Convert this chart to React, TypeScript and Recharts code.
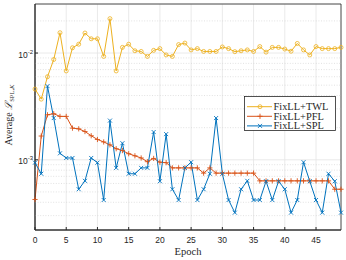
import React from 'react';
import {
  LineChart,
  Line,
  XAxis,
  YAxis,
  CartesianGrid,
  ReferenceLine,
  ReferenceArea,
  Legend,
} from 'recharts';

const EPOCHS = [
  0, 1, 2, 3, 4, 5, 6, 7, 8, 9, 10, 11, 12, 13, 14, 15, 16, 17, 18, 19, 20, 21, 22, 23, 24,
  25, 26, 27, 28, 29, 30, 31, 32, 33, 34, 35, 36, 37, 38, 39, 40, 41, 42, 43, 44, 45, 46, 47, 48, 49,
];

const TWL = [
  4.6e-3, 3.7e-3, 6.0e-3, 8.7e-3, 1.55e-2, 6.8e-3, 1.12e-2, 1.21e-2, 1.54e-2, 1.36e-2,
  1.36e-2, 9.3e-3, 2.1e-2, 6.8e-3, 1.13e-2, 1.21e-2, 1.05e-2, 1.035e-2, 9.3e-3, 1.06e-2,
  1.1e-2, 9.6e-3, 9.3e-3, 1.2e-2, 1.24e-2, 1.07e-2, 1.1e-2, 1.035e-2, 1.035e-2, 1.035e-2,
  1.14e-2, 1.1e-2, 1.03e-2, 1.05e-2, 1.07e-2, 1.035e-2, 1.15e-2, 1.02e-2, 1.13e-2, 1.13e-2,
  1.09e-2, 1.04e-2, 1.23e-2, 1.07e-2, 9.6e-3, 1.15e-2, 1.1e-2, 1.1e-2, 1.1e-2, 1.13e-2,
];

const PFL = [
  4.25e-4, 1.67e-3, 2.64e-3, 2.7e-3, 2.55e-3, 2.55e-3, 1.98e-3, 1.95e-3, 1.84e-3, 1.68e-3,
  1.55e-3, 1.47e-3, 1.38e-3, 1.27e-3, 1.22e-3, 1.14e-3, 1.09e-3, 1.04e-3, 9.6e-4, 1.03e-3,
  9.5e-4, 9.4e-4, 8.4e-4, 8.4e-4, 8.4e-4, 8.4e-4, 8.4e-4, 7.5e-4, 8.4e-4, 7.5e-4,
  7.5e-4, 7.5e-4, 7.5e-4, 7.5e-4, 7.5e-4, 7.5e-4, 6.35e-4, 6.35e-4, 6.35e-4, 6.35e-4,
  6.35e-4, 6.35e-4, 6.35e-4, 6.35e-4, 6.35e-4, 6.35e-4, 6.35e-4, 6.35e-4, 5.3e-4, 5.3e-4,
];

const SPL = [
  9.4e-4, 7.4e-4, 4.9e-3, 2.46e-3, 1.15e-3, 1.04e-3, 1.04e-3, 5.3e-4, 6.35e-4, 1.04e-3,
  9.4e-4, 4.2e-4, 2.33e-3, 8.4e-4, 1.43e-3, 7.4e-4, 7.4e-4, 8.4e-4, 8.4e-4, 1.82e-3,
  6.3e-4, 1.74e-3, 5.3e-4, 4.2e-4, 8.4e-4, 9.5e-4, 4.2e-4, 5.3e-4, 7.4e-4, 2.46e-3,
  7.4e-4, 4.2e-4, 3.2e-4, 5.3e-4, 6.35e-4, 4.2e-4, 4.2e-4, 6.3e-4, 4.2e-4, 6.3e-4,
  5.3e-4, 3.2e-4, 4.2e-4, 9.5e-4, 6.3e-4, 4.2e-4, 3.2e-4, 7.4e-4, 6.3e-4, 3.2e-4,
];

const X_TICKS = [0, 5, 10, 15, 20, 25, 30, 35, 40, 45];
const Y_TICKS = [1e-3, 1e-2];
const Y_MINOR = [3e-4, 4e-4, 5e-4, 6e-4, 7e-4, 8e-4, 9e-4, 2e-3, 3e-3, 4e-3, 5e-3, 6e-3, 7e-3, 8e-3, 9e-3, 2e-2];
const Y_DOMAIN = [2.2e-4, 2.88e-2];

const SERIES = [
  { key: 'twl', name: 'FixLL+TWL', color: '#EDB120', marker: 'o' },
  { key: 'pfl', name: 'FixLL+PFL', color: '#D95319', marker: '+' },
  { key: 'spl', name: 'FixLL+SPL', color: '#0072BD', marker: 'x' },
];

const data = EPOCHS.map((epoch, i) => ({ epoch, twl: TWL[i], pfl: PFL[i], spl: SPL[i] }));

const AXIS_COLOR = '#262626';
const SANS = '"Liberation Sans", Arial, sans-serif';
const SERIF = '"Liberation Serif", "DejaVu Serif", serif';

const drawMarker = (marker: string, cx: number, cy: number, color: string, key?: any) => {
  if (marker === 'o') {
    return <circle key={key} cx={cx} cy={cy} r={2} fill="none" stroke={color} strokeWidth={0.8} />;
  }
  if (marker === '+') {
    return (
      <path
        key={key}
        d={`M${cx - 2.6},${cy}H${cx + 2.6}M${cx},${cy - 2.6}V${cy + 2.6}`}
        stroke={color}
        strokeWidth={0.9}
      />
    );
  }
  return (
    <path
      key={key}
      d={`M${cx - 2},${cy - 2}L${cx + 2},${cy + 2}M${cx - 2},${cy + 2}L${cx + 2},${cy - 2}`}
      stroke={color}
      strokeWidth={0.9}
    />
  );
};

const XTick = ({ x, y, payload }: any) => (
  <text x={x} y={y + 14} textAnchor="middle" fontFamily={SANS} fontSize={8.5} fill={AXIS_COLOR}>
    {payload.value}
  </text>
);

const YTick = ({ x, y, payload }: any) => {
  const exp = Math.round(Math.log10(payload.value));
  return (
    <text x={x} y={y + 4.5} textAnchor="end" fontFamily={SANS} fontSize={8.5} fill={AXIS_COLOR}>
      <tspan>10</tspan>
      <tspan dy={-4} fontSize={6}>{exp}</tspan>
    </text>
  );
};

const YLabel = ({ viewBox }: any) => {
  const cx = 11.5;
  const cy = viewBox.y + viewBox.height / 2 - 2;
  return (
    <text
      x={cx}
      y={cy}
      transform={`rotate(-90, ${cx}, ${cy})`}
      textAnchor="middle"
      fontFamily={SERIF}
      fontSize={10}
      fill={AXIS_COLOR}
    >
      <tspan>Average </tspan>
      <tspan fontStyle="italic">ℒ</tspan>
      <tspan dy={2} fontSize={6.5}>SPL,</tspan>
      <tspan fontSize={6.5} fontStyle="italic">K</tspan>
    </text>
  );
};

const XLabel = ({ viewBox }: any) => (
  <text
    x={viewBox.x + viewBox.width / 2}
    y={viewBox.y + 25}
    textAnchor="middle"
    fontFamily={SERIF}
    fontSize={10.5}
    fill={AXIS_COLOR}
  >
    Epoch
  </text>
);

const LegendBox = () => (
  <svg width={92} height={35} style={{ display: 'block' }}>
    <rect x={0.5} y={0.5} width={91} height={34} fill="#fff" stroke={AXIS_COLOR} strokeWidth={0.8} />
    {SERIES.map((s, i) => {
      const yy = 10.7 + i * 9.6;
      return (
        <g key={s.key}>
          <line x1={3} x2={28} y1={yy} y2={yy} stroke={s.color} strokeWidth={1} />
          {drawMarker(s.marker, 16, yy, s.color)}
          <text x={29.5} y={yy + 3.4} fontFamily={SERIF} fontSize={10.4} fill={AXIS_COLOR}>
            {s.name}
          </text>
        </g>
      );
    })}
  </svg>
);

export default function App() {
  return (
    <div style={{ position: 'absolute', left: 0, top: 0, background: '#fff' }}>
      <LineChart width={346} height={260} data={data} margin={{ top: 4, right: 5, bottom: 0, left: 0 }}>
        <CartesianGrid stroke="#e4e4e4" strokeWidth={0.8} />
        {Y_MINOR.map((v) => (
          <ReferenceLine key={v} y={v} stroke="#d6d6d6" strokeWidth={0.7} strokeDasharray="1 1.6" />
        ))}
        <XAxis
          dataKey="epoch"
          type="number"
          domain={[0, 49]}
          ticks={X_TICKS}
          height={30}
          stroke={AXIS_COLOR}
          tickSize={-3}
          tickMargin={2}
          tick={<XTick />}
          label={<XLabel />}
        />
        <YAxis
          type="number"
          scale="log"
          domain={Y_DOMAIN}
          allowDataOverflow
          ticks={Y_TICKS}
          width={35}
          stroke={AXIS_COLOR}
          tickSize={-3}
          tickMargin={5}
          tick={<YTick />}
          label={<YLabel />}
        />
        <ReferenceArea
          x1={0}
          x2={49}
          y1={Y_DOMAIN[0]}
          y2={Y_DOMAIN[1]}
          fill="none"
          stroke={AXIS_COLOR}
          strokeWidth={0.8}
        />
        {SERIES.map((s) => (
          <Line
            key={s.key}
            dataKey={s.key}
            name={s.name}
            stroke={s.color}
            strokeWidth={1}
            isAnimationActive={false}
            dot={(p: any) => drawMarker(s.marker, p.cx, p.cy, s.color, p.key ?? p.index)}
            activeDot={false}
          />
        ))}
        <Legend
          layout="vertical"
          align="center"
          verticalAlign="middle"
          content={<LegendBox />}
          wrapperStyle={{ left: 244, top: 96, width: 92, height: 35 }}
        />
      </LineChart>
    </div>
  );
}
